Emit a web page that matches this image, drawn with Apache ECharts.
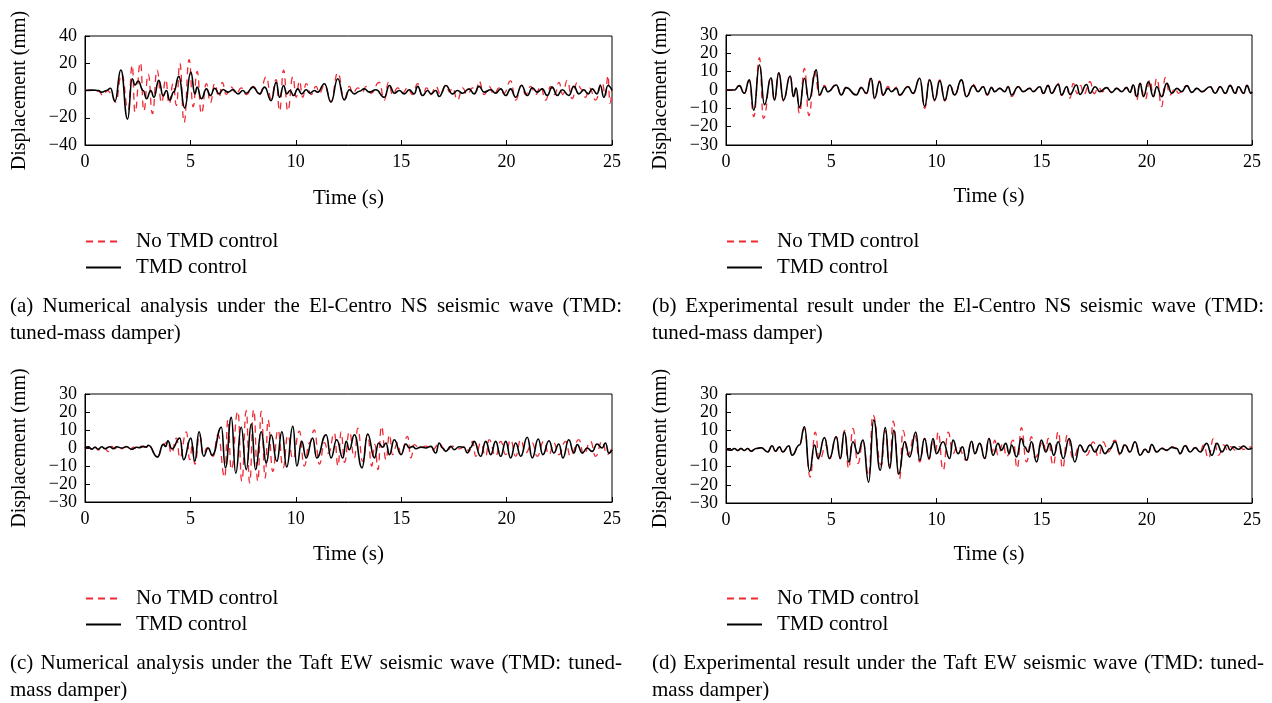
<!DOCTYPE html>
<html><head><meta charset="utf-8">
<script src="https://cdn.jsdelivr.net/npm/echarts@6/dist/echarts.min.js"></script>
<style>html,body{margin:0;padding:0;background:#fff}#c{width:1272px;height:703px}</style>
</head><body><div id="c"></div>
<script>
// ---------- DATA ----------
const seriesNames = ['No TMD control', 'TMD control'];
const xTicks = [0, 5, 10, 15, 20, 25];
const yTicksA = [-40, -20, 0, 20, 40];
const yTicksB = [-30, -20, -10, 0, 10, 20, 30];
const xTitle = 'Time (s)';
const yTitle = 'Displacement (mm)';

// (a) Numerical, El-Centro NS  [time s, displacement mm]
const aNo = [[0,0],[0.39,0.5],[0.63,-0.5],[0.87,-3.7],[1.06,0],[1.26,-2],[1.45,-8.6],[1.74,12],[2.05,-14],[2.24,18.5],[2.37,-16],[2.63,20.5],[2.79,-15],[3.00,12],[3.20,-17],[3.42,15],[3.63,-9],[3.83,8],[3.99,-10],[4.18,5],[4.34,-11],[4.50,20],[4.70,-23.5],[4.94,22.7],[5.13,-12],[5.32,14],[5.52,-17],[5.76,5],[5.95,-9],[6.15,5],[6.36,-5],[6.51,6],[6.70,-3],[6.94,2.5],[7.18,-2.5],[7.41,2],[7.65,-3],[7.97,3],[8.28,-3],[8.60,10],[8.83,-6],[9.07,8],[9.23,-15],[9.42,15],[9.62,-15],[9.86,10],[10.02,-5],[10.17,7],[10.33,-5],[10.49,5],[10.73,-3],[10.96,3],[11.12,-2],[11.36,4],[11.67,-8],[11.99,13],[12.30,-6],[12.54,3],[12.70,-2],[12.94,2],[13.17,-1],[13.33,3],[13.57,-2],[13.96,6],[14.20,-7],[14.40,6],[14.59,-3],[14.83,2],[15.07,-2],[15.30,2],[15.54,-3],[15.78,5],[16.01,-4],[16.20,2],[16.41,-3],[16.64,3],[16.88,-3],[17.12,4],[17.30,-1],[17.43,2],[17.67,-7],[17.91,2],[18.14,-3],[18.38,2],[18.55,-1],[18.69,7],[18.93,-3],[19.17,3],[19.40,-3],[19.64,2],[19.88,-2],[20.19,7],[20.43,-7],[20.71,4],[20.90,-3],[21.14,3],[21.38,-3],[21.61,3],[21.85,-7],[22.09,3],[22.29,-3],[22.48,6],[22.67,-3],[22.87,7.4],[23.11,-6],[23.35,6],[23.55,1],[23.74,-5],[23.93,2],[24.22,-7],[24.53,6],[24.69,-4],[24.81,11],[24.90,-9.4],[25,0]];
const aTmd = [[0,0],[0.39,0.3],[0.63,0],[0.79,-1.2],[1.03,0],[1.21,1.7],[1.42,-8],[1.70,15],[2.02,-21],[2.24,8.6],[2.37,4],[2.52,7],[2.76,0],[2.92,-6],[3.12,0],[3.27,-5],[3.50,7.4],[3.71,-4],[3.86,0],[4.02,-7],[4.21,-1],[4.45,10.4],[4.73,-12.8],[5.02,13.6],[5.21,-2.5],[5.32,2.5],[5.52,-6],[5.76,1.2],[5.95,-3.7],[6.15,1.7],[6.36,-2.5],[6.55,0.7],[6.78,-1.2],[7.02,0.5],[7.26,-2.5],[7.49,0],[7.65,-2],[7.97,2.5],[8.28,-2.5],[8.52,2.5],[8.83,-7.4],[9.07,6],[9.23,-5],[9.42,3.7],[9.57,-2.5],[9.73,0],[9.89,-3.7],[10.09,1.2],[10.28,-2.5],[10.49,0.5],[10.68,-2],[10.88,0],[11.04,-1.2],[11.36,5],[11.67,-8.6],[11.99,8.6],[12.30,-7],[12.54,0.5],[12.78,-2.5],[13.02,-0.5],[13.25,1.2],[13.49,-1.2],[13.80,0.5],[14.20,-5],[14.44,3.7],[14.67,-2],[14.91,0],[15.15,-2.5],[15.38,0.5],[15.62,-2.5],[15.78,3],[16.01,-3.7],[16.25,0],[16.41,-2.5],[16.64,0],[16.80,-4.4],[17.12,3.7],[17.43,-2.5],[17.67,0],[17.91,-2],[18.22,1.2],[18.46,-2.5],[18.69,3],[18.93,-1.2],[19.25,0.5],[19.48,-2],[19.72,1.2],[19.96,-3.7],[20.19,1.2],[20.43,-5],[20.71,3.7],[20.98,-3.7],[21.22,2],[21.45,-1.2],[21.69,1.2],[21.93,-3.7],[22.16,2.5],[22.40,-3.7],[22.64,0.5],[22.95,-3.7],[23.19,3],[23.43,-2.5],[23.66,0.5],[23.87,-2.5],[24.06,1.2],[24.29,-2.5],[24.45,3.7],[24.61,-5],[24.81,3.7],[25,0]];

// (b) Experimental, El-Centro NS
const bNo = [[0,0],[0.40,0],[0.63,2.4],[0.87,-1.8],[1.11,5],[1.32,-14.5],[1.59,17.6],[1.78,-15.5],[2.14,7],[2.30,-6],[2.51,9],[2.73,-6],[3.05,8],[3.21,-4],[3.33,1],[3.49,-12.7],[3.73,11.8],[3.94,-14],[4.21,10],[4.44,-3],[4.68,2.5],[4.84,-1],[5.24,3],[5.48,-3],[5.71,1.5],[6.19,-3],[6.43,1.5],[6.67,-2],[6.90,7],[7.06,-5],[7.30,5],[7.46,-3],[7.70,2],[7.86,-1],[8.10,1.5],[8.25,-3],[8.65,2],[8.89,-2],[9.21,6.4],[9.44,-10],[9.68,6],[9.92,-6],[10.16,5.5],[10.40,-6],[10.63,3],[10.87,-3],[11.19,5.5],[11.43,-4],[11.75,3],[11.98,-1],[12.22,2],[12.42,-3],[12.62,1.5],[12.77,-1],[13.01,1],[13.25,-1],[13.41,2],[13.57,-3.6],[13.89,2],[14.12,-1],[14.44,1],[14.60,-1],[14.92,2],[15.08,-2],[15.31,2.7],[15.47,-2],[15.79,3.6],[15.95,-3],[16.19,2],[16.35,-4.5],[16.50,3.6],[16.70,-2],[16.85,2.5],[17.00,-2.5],[17.30,4.5],[17.50,-2],[17.70,1.5],[17.90,-1],[18.09,1.5],[18.33,-1.5],[18.57,1],[18.81,-1],[19.04,1.5],[19.20,-1.5],[19.36,3],[19.52,-5.5],[19.68,3.6],[19.92,-5.5],[20.15,5.5],[20.31,-3.6],[20.47,6.4],[20.71,-9],[20.87,6.7],[21.11,-2.7],[21.35,1],[21.50,-1.8],[21.90,2.4],[22.14,-1.3],[22.38,1],[22.62,-1],[23.01,2],[23.25,-2],[23.49,2],[23.73,-2],[23.96,2.6],[24.20,-2],[24.36,2],[24.60,-2],[24.76,2.6],[24.95,-2],[25,-1]];
const bTmd = [[0,0],[0.40,0],[0.63,2.4],[0.87,-1.8],[1.11,5.5],[1.32,-11],[1.59,13.6],[1.83,-8],[2.14,6.7],[2.30,-5.5],[2.51,9.5],[2.73,-5.5],[3.05,7.6],[3.21,-3.6],[3.33,1],[3.49,-9.6],[3.73,6.4],[3.94,-5.5],[4.29,11],[4.44,-2.7],[4.68,1.8],[4.84,-1],[5.24,2.7],[5.48,-2.7],[5.71,1.3],[6.19,-2.7],[6.43,1.3],[6.67,-1.8],[6.90,6.4],[7.06,-4.5],[7.30,4.5],[7.46,-2.7],[7.70,0.9],[7.86,-0.9],[8.10,0.9],[8.25,-2.7],[8.65,1.8],[8.89,-1.8],[9.21,6.4],[9.44,-9],[9.68,5.5],[9.92,-5.5],[10.16,5],[10.40,-5.5],[10.63,2.7],[10.87,-2.7],[11.19,5.5],[11.43,-3.6],[11.75,2.4],[11.98,-0.9],[12.22,1.8],[12.42,-2.5],[12.62,1.3],[12.77,-0.9],[13.01,0.9],[13.25,-0.9],[13.41,1.8],[13.57,-2.7],[13.89,1.8],[14.12,-0.9],[14.44,0.9],[14.60,-0.9],[14.92,1.8],[15.08,-1.8],[15.31,2.4],[15.47,-1.8],[15.79,3],[15.95,-2.7],[16.19,1.8],[16.35,-2.4],[16.66,2.7],[16.82,-2.4],[17.14,3],[17.30,-1.8],[17.54,1.8],[17.77,-0.9],[18.09,1.3],[18.33,-1.3],[18.57,0.9],[18.81,-0.9],[19.04,1.3],[19.20,-1.3],[19.36,2.7],[19.52,-3.6],[19.68,3.6],[19.84,-3.6],[20.08,4.5],[20.31,-3.6],[20.47,1.8],[20.71,-3.6],[20.95,3.6],[21.19,-1.8],[21.43,0.9],[21.66,-0.9],[21.90,2.4],[22.14,-1.3],[22.38,0.9],[22.62,-0.9],[23.01,1.8],[23.25,-1.8],[23.49,1.8],[23.73,-1.8],[23.96,2.4],[24.20,-1.8],[24.36,1.8],[24.60,-1.8],[24.76,2.4],[24.95,-1.8],[25,-1]];

// (c) Numerical, Taft EW
const cNo = [[0,0],[0.16,0.4],[0.32,-0.9],[0.47,0.6],[0.63,-1.2],[0.79,0.9],[0.95,-0.4],[1.10,-2],[1.26,0.9],[1.42,-0.4],[1.58,1],[1.74,-0.5],[1.97,0.9],[2.13,-1],[2.29,0.5],[2.44,-0.5],[2.68,1],[2.84,0.3],[3.00,1.5],[3.44,-5],[3.71,2],[3.93,3.5],[4.10,-3],[4.34,5.5],[4.50,-5.5],[4.81,9],[4.97,-6.5],[5.10,2],[5.21,-9],[5.44,7.4],[5.60,-4],[5.79,0],[6.07,-4.6],[6.31,7.4],[6.63,-16.3],[6.78,15.7],[6.94,-12],[7.25,20.4],[7.44,-18.5],[7.65,20.7],[7.81,-19.4],[8.00,21.3],[8.20,-18.5],[8.36,20.4],[8.55,-16.7],[8.68,15.7],[8.91,-13],[9.15,10],[9.40,-11],[9.62,7],[9.86,-6],[10.17,9.3],[10.40,-10],[10.65,3],[10.88,10],[11.12,-9],[11.36,3],[11.55,-3],[11.83,8.3],[12.00,-10],[12.15,9],[12.31,-8],[12.54,9],[12.78,-5.5],[12.94,11],[13.17,-7.4],[13.41,7.4],[13.60,-10],[13.75,2],[13.90,-12],[14.06,12],[14.28,-6.5],[14.44,7.4],[14.59,-3.7],[14.83,2.8],[14.99,-3.7],[15.30,6.5],[15.46,-5.5],[15.62,1.9],[15.86,0],[16.17,1],[16.49,-1],[16.80,2.5],[17.12,-2],[17.43,1],[17.75,-0.5],[18.06,1],[18.22,-2],[18.38,3.7],[18.54,-4.6],[18.77,2.8],[19.01,-4.6],[19.17,4.6],[19.48,-4.6],[19.72,3.7],[19.96,-3.7],[20.19,4.6],[20.43,-4.6],[20.67,4.6],[20.90,-2.8],[21.22,2.8],[21.45,-4.6],[21.77,3.7],[22.01,-3.7],[22.24,2.8],[22.48,-3.7],[22.80,3.7],[23.03,-4.6],[23.43,4.6],[23.66,-3.7],[23.98,3.7],[24.22,-4.6],[24.53,3.7],[24.77,-3.7],[25,0]];
const cTmd = [[0,0],[0.16,0.6],[0.32,-0.6],[0.47,0.4],[0.63,-0.6],[0.79,0.7],[0.95,-0.4],[1.18,0.7],[1.34,-0.4],[1.50,0.7],[1.74,0],[1.97,0.7],[2.21,-0.7],[2.44,0.4],[2.60,0.2],[2.76,0.9],[2.92,0.5],[3.00,1.5],[3.44,-5],[3.71,2],[3.83,0.8],[3.93,4],[4.12,-0.5],[4.50,5.5],[4.68,-6.5],[5.02,5.5],[5.21,-7.4],[5.41,9],[5.63,-4.6],[5.84,0],[6.04,-4],[6.47,11.5],[6.66,-11],[6.94,17],[7.15,-14],[7.41,11.5],[7.65,-12],[7.89,13.3],[8.09,-12],[8.36,9],[8.60,-8.3],[8.83,7.4],[9.10,-7.4],[9.34,9],[9.57,-10.5],[9.86,12],[10.05,-10],[10.28,3.7],[10.49,-5.5],[10.80,5.5],[10.99,-5.5],[11.44,7.4],[11.67,-5.5],[11.94,4.6],[12.23,-5.5],[12.39,3.7],[12.54,-1],[12.78,7.4],[13.14,-11],[13.41,7.8],[13.73,-5.5],[13.93,2.8],[14.12,0.5],[14.28,2.8],[14.44,-3.7],[14.67,4.6],[14.99,-3.7],[15.22,2.2],[15.38,0],[15.54,0.9],[15.70,-0.4],[15.93,0.5],[16.17,0],[16.41,0.9],[16.64,-2.8],[16.80,2.8],[16.96,0],[17.12,-1.9],[17.35,0.9],[17.51,-0.9],[17.75,0.7],[17.98,0.4],[18.14,-2.8],[18.30,0.4],[18.46,3.7],[18.77,-4.6],[19.01,3.7],[19.25,-3.7],[19.48,3.7],[19.72,-4.6],[19.96,3.7],[20.19,-5.5],[20.43,2.8],[20.67,-4.6],[20.98,6],[21.22,-5.5],[21.50,5],[21.72,-3.7],[22.01,4],[22.24,-2.8],[22.48,2.2],[22.67,-5.5],[22.95,4.6],[23.19,-2.8],[23.35,1.9],[23.59,-2.8],[23.82,0],[24.06,-1.9],[24.29,2.2],[24.53,0],[24.69,2.8],[24.85,-2.8],[25,-1]];

// (d) Experimental, Taft EW
const dNo = [[0,-0.4],[0.24,-0.9],[0.40,0],[0.56,-1.1],[0.71,0],[0.87,-1.1],[1.03,0],[1.19,-1.5],[1.43,0],[1.67,0.4],[1.98,-1.9],[2.19,1.5],[2.35,-1.5],[2.54,0.9],[2.70,-1.9],[2.98,1.5],[3.14,-3.7],[3.49,1.9],[3.73,11],[4.00,-15.7],[4.24,9],[4.44,-6.5],[4.76,1.9],[4.92,-5.5],[5.24,6.5],[5.43,-5.5],[5.63,10],[5.83,-11],[6.03,11],[6.27,-8.3],[6.51,3.7],[6.78,-15],[6.98,18.5],[7.38,-9.3],[7.57,10],[7.78,-10],[7.94,15],[8.25,-16.7],[8.41,10],[8.65,-3.7],[8.97,7.4],[9.21,-7.4],[9.44,5.5],[9.65,-6],[9.84,5],[9.96,-2],[10.08,9],[10.32,-12],[10.56,9],[10.79,-2.8],[11.00,1.5],[11.43,-6.5],[11.67,4],[11.83,-2.8],[12.06,2.8],[12.30,-5.5],[12.50,5.5],[12.65,-2],[12.77,4.6],[12.93,-3.7],[13.17,2.8],[13.33,-4.6],[13.65,4.6],[13.84,-11],[14.04,11.5],[14.28,-7.4],[14.52,6.5],[14.68,-5],[15.08,3.7],[15.20,-1],[15.31,5.5],[15.55,-9.3],[15.79,9.3],[16.00,-11],[16.22,7.4],[16.50,-5.5],[16.82,1.9],[17.14,-3.7],[17.46,3.7],[17.70,-4.6],[17.93,3.7],[18.17,-1.9],[18.49,4.6],[18.73,-3.7],[18.96,2.8],[19.20,-2.2],[19.44,3.7],[19.68,-3.7],[19.92,-0.4],[20.08,-2.2],[20.23,2.2],[20.47,-1.9],[20.71,0.4],[20.95,-1.2],[21.19,1],[21.43,0],[21.58,-3],[21.82,2],[22.06,-2],[22.30,0.6],[22.54,-2],[22.70,2],[22.93,-5.5],[23.17,5.5],[23.41,-3.7],[23.65,2],[23.85,-1],[24.00,1],[24.20,-1],[24.40,1],[24.60,-0.5],[24.84,1],[25,0.4]];
const dTmd = [[0,-0.4],[0.24,-0.9],[0.40,0],[0.56,-1.1],[0.71,0],[0.87,-1.1],[1.03,0],[1.19,-1.5],[1.43,0],[1.67,0.4],[1.98,-1.9],[2.19,1.5],[2.35,-1.5],[2.54,0.9],[2.70,-1.9],[2.98,1.5],[3.14,-3.7],[3.49,1.9],[3.73,12],[3.97,-12.6],[4.21,1.9],[4.37,-5.5],[4.68,6],[4.92,-5.5],[5.24,6.5],[5.43,-5.5],[5.63,9],[5.84,-7.4],[6.03,3.7],[6.27,-2.8],[6.51,4.6],[6.78,-18.5],[7.02,15.7],[7.33,-12],[7.57,11.5],[7.78,-11],[7.98,10],[8.21,-14],[8.49,3.7],[8.73,-4.6],[9.02,9],[9.21,-6.5],[9.44,5.5],[9.65,-5.5],[9.84,5.5],[10.00,-2.8],[10.32,3.7],[10.63,-5.5],[10.79,4.6],[11.03,-2.8],[11.24,1],[11.43,-6.5],[11.67,4],[11.83,-2.8],[12.06,2.8],[12.30,-5.5],[12.50,5.5],[12.69,-3.7],[12.93,2.8],[13.09,-0.9],[13.30,2.8],[13.46,-2.8],[13.57,1.9],[13.81,-4.6],[14.04,5.5],[14.20,0.9],[14.36,-1.9],[14.52,3.7],[14.76,-7.4],[14.99,4.6],[15.20,-1.9],[15.39,2.8],[15.58,-3.7],[15.79,3.7],[16.03,-5.5],[16.31,5.5],[16.58,-7.4],[16.82,1.9],[17.06,-1.9],[17.30,1.9],[17.54,-1.9],[17.77,1.9],[18.01,-2.8],[18.25,0],[18.49,3.7],[18.73,-2.8],[18.96,1.9],[19.20,-1.9],[19.44,3.7],[19.68,-3.7],[19.92,-0.4],[20.08,-2.2],[20.23,2.2],[20.47,-1.9],[20.71,0],[20.95,-0.9],[21.19,0.6],[21.43,0],[21.58,-2.8],[21.82,1.5],[22.06,-1.9],[22.30,0.4],[22.54,-1.9],[22.85,2.8],[23.09,-3.7],[23.33,2.8],[23.57,-1.9],[23.81,1.9],[23.96,-0.9],[24.12,0.9],[24.36,-0.4],[24.60,1.3],[24.84,-0.4],[25,0.4]];

const captionsA = ['(a)  Numerical analysis under the El-Centro NS seismic wave (TMD:', 'tuned-mass damper)'];
const captionsB = ['(b)  Experimental result under the El-Centro NS seismic wave (TMD:', 'tuned-mass damper)'];
const captionsC = ['(c)  Numerical analysis under the Taft EW seismic wave (TMD: tuned-', 'mass damper)'];
const captionsD = ['(d)  Experimental result under the Taft EW seismic wave (TMD: tuned-', 'mass damper)'];

// ---------- LAYOUT ----------
const FONT = '"Liberation Serif", "Times New Roman", serif';
const CAP_FONT = '21px ' + FONT;
const panels = [
  {grid:{left:85, top:36, width:527, height:109}, yT:yTicksA, no:aNo, tmd:aTmd, cap:captionsA, capX:[10,622], capY:[306,333], leg:{left:80, top:226}, xGap:43, yGap:55},
  {grid:{left:726, top:35, width:526, height:110}, yT:yTicksB, no:bNo, tmd:bTmd, cap:captionsB, capX:[652,1264], capY:[306,333], leg:{left:721, top:226}, xGap:41, yGap:55},
  {grid:{left:85, top:394, width:527, height:108}, yT:yTicksB, no:cNo, tmd:cTmd, cap:captionsC, capX:[10,622], capY:[663,690], leg:{left:80, top:583}, xGap:42, yGap:55},
  {grid:{left:726, top:394, width:526, height:109}, yT:yTicksB, no:dNo, tmd:dTmd, cap:captionsD, capX:[652,1264], capY:[663,690], leg:{left:721, top:583}, xGap:41, yGap:55}
];

const cv = document.createElement('canvas').getContext('2d');
cv.font = CAP_FONT;
function justify(text, x0, x1, y) {
  const words = text.split(/\s+/).filter(Boolean);
  const widths = words.map(w => cv.measureText(w).width);
  const total = widths.reduce((s, w) => s + w, 0);
  const gap = (x1 - x0 - total) / (words.length - 1);
  let x = x0;
  return words.map((w, i) => {
    const el = {type:'text', x:x, y:y, silent:true, style:{text:w, font:CAP_FONT, fill:'#000', verticalAlign:'middle'}};
    x += widths[i] + gap;
    return el;
  });
}

const option = {animation:false, backgroundColor:'#fff', grid:[], xAxis:[], yAxis:[], series:[], legend:[], graphic:[]};
panels.forEach((p, i) => {
  option.grid.push(Object.assign({show:true, borderColor:'#000', borderWidth:1, backgroundColor:'transparent'}, p.grid));
  option.xAxis.push({type:'value', gridIndex:i, min:xTicks[0], max:xTicks[xTicks.length-1], interval:xTicks[1]-xTicks[0],
    axisLine:{show:true, onZero:false, lineStyle:{color:'#000', width:1}},
    axisTick:{show:true, inside:true, length:5, lineStyle:{color:'#000'}},
    axisLabel:{color:'#000', fontSize:18, fontFamily:FONT, margin:8},
    splitLine:{show:false},
    name:xTitle, nameLocation:'middle', nameGap:p.xGap, nameTextStyle:{color:'#000', fontSize:21, fontFamily:FONT}});
  option.yAxis.push({type:'value', gridIndex:i, min:p.yT[0], max:p.yT[p.yT.length-1], interval:p.yT[1]-p.yT[0],
    axisLine:{show:true, onZero:false, lineStyle:{color:'#000', width:1}},
    axisTick:{show:true, inside:true, length:5, lineStyle:{color:'#000'}},
    axisLabel:{color:'#000', fontSize:18, fontFamily:FONT, margin:8, formatter:v => String(v).replace('-', '\u2212')},
    splitLine:{show:false},
    name:yTitle, nameLocation:'middle', nameGap:p.yGap, nameRotate:90, nameTextStyle:{color:'#000', fontSize:20, fontFamily:FONT}});
  option.series.push({type:'line', name:seriesNames[0], xAxisIndex:i, yAxisIndex:i, data:p.no, symbol:'none', smooth:0.5, smoothMonotone:'x',
    lineStyle:{color:'#ee2a35', width:1.3, type:[7,5]}, itemStyle:{color:'#ee2a35'}, z:2});
  option.series.push({type:'line', name:seriesNames[1], xAxisIndex:i, yAxisIndex:i, data:p.tmd, symbol:'none', smooth:0.5, smoothMonotone:'x',
    lineStyle:{color:'#000', width:1.6}, itemStyle:{color:'#000'}, z:3});
  option.legend.push({data:seriesNames, orient:'vertical', left:p.leg.left, top:p.leg.top, itemWidth:35, itemHeight:14, itemGap:5,
    selectedMode:false, itemStyle:{opacity:0},
    textStyle:{color:'#000', fontSize:21, fontFamily:FONT, padding:[0,0,0,10]}});
  option.graphic.push(...justify(p.cap[0], p.capX[0], p.capX[1], p.capY[0]));
  option.graphic.push({type:'text', x:p.capX[0], y:p.capY[1], silent:true, style:{text:p.cap[1], font:CAP_FONT, fill:'#000', verticalAlign:'middle'}});
});

const chart = echarts.init(document.getElementById('c'), null, {renderer:'canvas'});
chart.setOption(option);
</script>
</body></html>
